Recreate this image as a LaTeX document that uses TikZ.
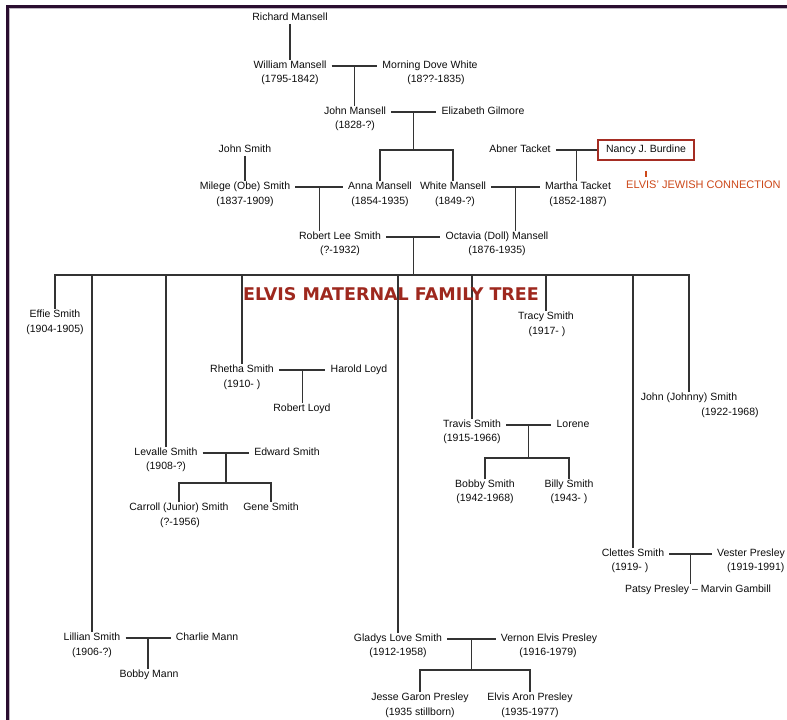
\documentclass[tikz,border=0pt]{standalone}
\usepackage{fontspec}
\setmainfont{Liberation Sans}
\newfontfamily\titlefont{DejaVu Sans}
\usetikzlibrary{calc}
\definecolor{framepurple}{RGB}{42,14,48}
\definecolor{titlered}{RGB}{158,40,30}
\definecolor{jewishred}{RGB}{205,72,25}
\definecolor{boxred}{RGB}{165,45,35}

\begin{document}
\begin{tikzpicture}[x=1pt,y=-1pt,
  every node/.style={font=\fontsize{10.5}{12}\selectfont,text=black!95},
  person/.style={inner xsep=5pt,inner ysep=1pt,text height=7.5pt,text depth=2pt},
  years/.style={inner sep=0pt,text height=7.5pt,text depth=2pt},
  link/.style={line width=1.2pt,draw=black!80}]
  \clip (0,0) rectangle (787,720);
  \fill[white] (0,0) rectangle (787,720);
  % frame
  \fill[framepurple] (6,5) rectangle (787,8);
  \fill[framepurple] (6,5) rectangle (9,720);
  \fill[framepurple!30] (9,8) rectangle (787,9);
  \fill[framepurple!30] (9,8) rectangle (10,720);

  % ancestors
  \node[person] (rm) at (290,18) {Richard Mansell};
  \node[person] (wm) at (290,66) {William Mansell};
  \node[years] at (290,80) {(1795-1842)};
  \node[person] (mdw) at (430,66) {Morning Dove White};
  \node[years] at (436,80) {(18??-1835)};
  \node[person] (jm) at (355,112) {John Mansell};
  \node[years] at (355,126) {(1828-?)};
  \node[person] (eg) at (483,112) {Elizabeth Gilmore};
  \node[person] (js) at (245,150) {John Smith};
  \node[person] (ms) at (245,187) {Milege (Obe) Smith};
  \node[years] at (245,202) {(1837-1909)};
  \node[person] (am) at (380,187) {Anna Mansell};
  \node[years] at (380,202) {(1854-1935)};
  \node[person] (wh) at (453,187) {White Mansell};
  \node[years] at (455,202) {(1849-?)};
  \node[person] (at) at (520,150) {Abner Tacket};
  \node[person,draw=boxred,line width=1.8pt,minimum width=96pt,minimum height=20pt] (nb) at (646,150) {Nancy J. Burdine};
  \node[anchor=west,inner sep=0pt,font=\fontsize{11}{12}\selectfont,text=jewishred] (jc) at (626,185) {ELVIS' JEWISH CONNECTION};
  \node[person] (mt) at (578,187) {Martha Tacket};
  \node[years] at (578,202) {(1852-1887)};
  \node[person] (rl) at (340,237) {Robert Lee Smith};
  \node[years] at (340,251) {(?-1932)};
  \node[person] (oc) at (497,237) {Octavia (Doll) Mansell};
  \node[years] at (497,251) {(1876-1935)};

  % children of Robert Lee and Octavia
  \node[person] (ef) at (55,315) {Effie Smith};
  \node[years] at (55,330) {(1904-1905)};
  \node[person] (ls) at (92,638) {Lillian Smith};
  \node[years] at (92,653) {(1906-?)};
  \node[person] (lv) at (166,453) {Levalle Smith};
  \node[years] at (166,467) {(1908-?)};
  \node[person] (rh) at (242,370) {Rhetha Smith};
  \node[years] at (242,385) {(1910- )};
  \node[person] (gl) at (398,639) {Gladys Love Smith};
  \node[years] at (398,653) {(1912-1958)};
  \node[person] (tr) at (472,425) {Travis Smith};
  \node[years] at (472,439) {(1915-1966)};
  \node[person] (tc) at (546,317) {Tracy Smith};
  \node[years] at (547,332) {(1917- )};
  \node[person] (cs) at (633,554) {Clettes Smith};
  \node[years] at (630,568) {(1919- )};
  \node[person] (jj) at (689,398) {John (Johnny) Smith};
  \node[years] at (730,413) {(1922-1968)};

  % their families
  \node[person] (hl) at (359,370) {Harold Loyd};
  \node[person] (rlo) at (302,409) {Robert Loyd};
  \node[person] (es) at (287,453) {Edward Smith};
  \node[person] (cj) at (179,508) {Carroll (Junior) Smith};
  \node[years] at (180,523) {(?-1956)};
  \node[person] (gs) at (271,508) {Gene Smith};
  \node[person] (lo) at (573,425) {Lorene};
  \node[person] (bs) at (485,485) {Bobby Smith};
  \node[years] at (485,499) {(1942-1968)};
  \node[person] (bi) at (569,485) {Billy Smith};
  \node[years] at (569,499) {(1943- )};
  \node[person,anchor=west] (vp) at (712,554) {Vester Presley};
  \node[years,anchor=west] at (727,568) {(1919-1991)};
  \node[person] (pm) at (698,590) {Patsy Presley -- Marvin Gambill};
  \node[person] (cm) at (207,638) {Charlie Mann};
  \node[person] (bm) at (149,675) {Bobby Mann};
  \node[person] (vep) at (549,639) {Vernon Elvis Presley};
  \node[years] at (548,653) {(1916-1979)};
  \node[person] (jg) at (420,698) {Jesse Garon Presley};
  \node[years] at (420,713) {(1935 stillborn)};
  \node[person] (ea) at (530,698) {Elvis Aron Presley};
  \node[years] at (530,713) {(1935-1977)};

  % lines
  \draw[link] (rm) -- (wm);
  \draw[link] (js) -- (ms);
  \draw[link] (wm.east) -- (mdw.west);
  \coordinate (c1) at ($(wm.east)!.5!(mdw.west)$);
  \draw[link] (c1) -- (c1 |- jm.north);
  \draw[link] (jm.east) -- (eg.west);
  \coordinate (c2) at ($(jm.east)!.5!(eg.west)$);
  \draw[link] (c2) -- ++(0,38) coordinate (c2b);
  \draw[link] (am.north) |- (c2b) -| (wh.north);
  \draw[link] (ms.east) -- (am.west);
  \coordinate (c3) at ($(ms.east)!.5!(am.west)$);
  \draw[link] (c3) -- (c3 |- rl.north);
  \draw[link] (at.east) -- (nb.west);
  \coordinate (c4) at ($(at.east)!.5!(nb.west)$);
  \draw[link] (c4) -- (c4 |- mt.north);
  \draw[jewishred,line width=2pt,shorten <=10pt,shorten >=4pt] (nb.south) -- (nb.south |- jc.north);
  \draw[link] (wh.east) -- (mt.west);
  \coordinate (c5) at ($(wh.east)!.5!(mt.west)$);
  \draw[link] (c5) -- (c5 |- oc.north);
  \draw[link] (rl.east) -- (oc.west);
  \coordinate (c6) at ($(rl.east)!.5!(oc.west)$);
  \draw[link] (c6) -- ++(0,38) coordinate (c6b);
  \draw[link] (ef.north) |- (c6b) -| (jj.north);
  \foreach \kid in {ls,lv,rh,gl,tr,tc,cs}
    \draw[link] (\kid.north) -- (\kid.north |- c6b);
  \draw[link] (rh.east) -- (hl.west);
  \coordinate (c7) at ($(rh.east)!.5!(hl.west)$);
  \draw[link] (c7) -- (c7 |- rlo.north);
  \draw[link] (lv.east) -- (es.west);
  \coordinate (c8) at ($(lv.east)!.5!(es.west)$);
  \draw[link] (c8) -- ++(0,30) coordinate (c8b);
  \draw[link] (cj.north) |- (c8b) -| (gs.north);
  \draw[link] (tr.east) -- (lo.west);
  \coordinate (c9) at ($(tr.east)!.5!(lo.west)$);
  \draw[link] (c9) -- ++(0,33) coordinate (c9b);
  \draw[link] (bs.north) |- (c9b) -| (bi.north);
  \draw[link] (cs.east) -- (vp.west);
  \coordinate (c10) at ($(cs.east)!.5!(vp.west)$);
  \draw[link] (c10) -- (c10 |- pm.north);
  \draw[link] (ls.east) -- (cm.west);
  \coordinate (c11) at ($(ls.east)!.5!(cm.west)$);
  \draw[link] (c11) -- (c11 |- bm.north);
  \draw[link] (gl.east) -- (vep.west);
  \coordinate (c12) at ($(gl.east)!.5!(vep.west)$);
  \draw[link] (c12) -- ++(0,31) coordinate (c12b);
  \draw[link] (jg.north) |- (c12b) -| (ea.north);

  % title over the lines
  \node[inner sep=0pt,font={\titlefont\bfseries\fontsize{17.5}{20}\selectfont},text=titlered] (title) at (391,294) {ELVIS MATERNAL FAMILY TREE};
\end{tikzpicture}
\end{document}
